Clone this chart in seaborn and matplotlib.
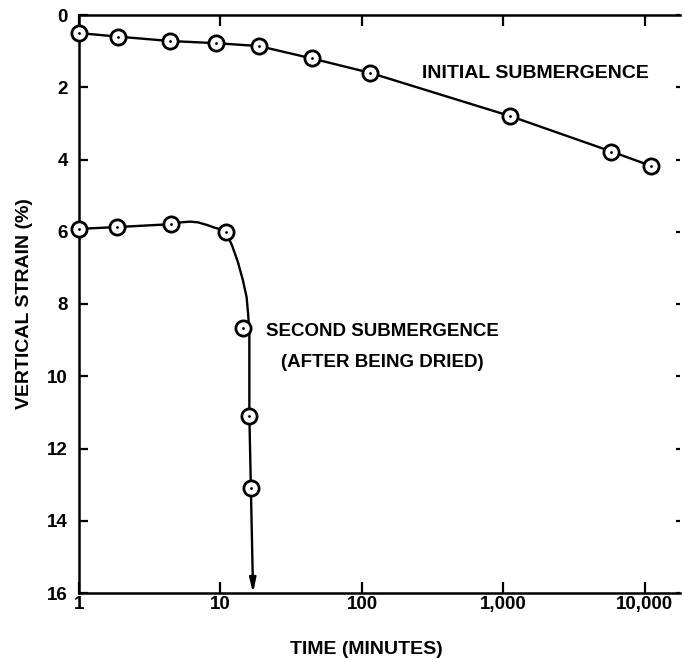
import matplotlib
matplotlib.use("Agg")
import matplotlib.pyplot as plt
import seaborn as sns
import pandas as pd

# ---- data ----
init_time = [1, 1.9, 4.4, 9.3, 18.7, 44, 114, 1120, 5800, 11100]
init_strain = [0.5, 0.6, 0.72, 0.78, 0.86, 1.2, 1.6, 2.8, 3.78, 4.18]

second_time = [1, 1.86, 4.5, 10.9, 14.5, 16.0, 16.4]
second_strain = [5.92, 5.87, 5.79, 6.02, 8.66, 11.09, 13.09]

# hand-drawn fit curve for the second submergence
curve_time = [1, 1.86, 4.5, 5.25, 6.1, 6.94, 8.0, 8.98, 10.08, 10.9,
              12.05, 13.28, 14.4, 15.3, 15.7, 16.0, 16.0, 16.4]
curve_strain = [5.92, 5.87, 5.79, 5.74, 5.72, 5.74, 5.81, 5.88, 5.94, 6.02,
                6.37, 6.84, 7.34, 7.81, 8.30, 8.86, 11.09, 13.09]
arrow_end = (17.0, 16.0)

x_ticks = [1, 10, 100, 1000, 10000]
x_ticklabels = ["1", "10", "100", "1,000", "10,000"]
y_ticks = [0, 2, 4, 6, 8, 10, 12, 14, 16]

init_df = pd.DataFrame({"time": init_time, "strain": init_strain})
second_df = pd.DataFrame({"time": second_time, "strain": second_strain})
curve_df = pd.DataFrame({"time": curve_time, "strain": curve_strain})

sns.set_style("white")
plt.rcParams["font.family"] = ["Liberation Sans", "DejaVu Sans"]
plt.rcParams["font.weight"] = "bold"
for k in ("text.color", "axes.labelcolor", "xtick.color", "ytick.color",
          "axes.edgecolor"):
    plt.rcParams[k] = "black"

fig = plt.figure(figsize=(6.82, 6.59), dpi=100)
ax = fig.add_axes([79 / 682, 1 - 593 / 659, 601 / 682, 578 / 659])

lw = 1.7
sns.lineplot(data=init_df, x="time", y="strain", ax=ax, color="black",
             linewidth=lw, sort=False, estimator=None)
sns.lineplot(data=curve_df, x="time", y="strain", ax=ax, color="black",
             linewidth=lw, sort=False, estimator=None)
ax.annotate("", xy=arrow_end, xytext=(curve_time[-1], curve_strain[-1]),
            arrowprops=dict(arrowstyle="-|>,head_length=0.7,head_width=0.16",
                            color="black", lw=lw,
                            mutation_scale=12, shrinkA=0, shrinkB=0))

for df in (init_df, second_df):
    sns.scatterplot(data=df, x="time", y="strain", ax=ax, marker="o", s=120,
                    facecolor="white", edgecolor="black", linewidth=2.0,
                    zorder=5, clip_on=False)
    sns.scatterplot(data=df, x="time", y="strain", ax=ax, marker="o", s=4,
                    color="black", linewidth=0, zorder=6, clip_on=False)

ax.set_xscale("log")
ax.set_xlim(1, 17700)
ax.set_ylim(16, 0)
ax.set_xticks(x_ticks)
ax.set_xticklabels(x_ticklabels)
ax.xaxis.set_minor_locator(matplotlib.ticker.NullLocator())
ax.set_yticks(y_ticks)
ax.set_yticklabels([str(v) for v in y_ticks])

for side in ("left", "bottom", "top"):
    ax.spines[side].set_visible(True)
    ax.spines[side].set_linewidth(1.8)
    ax.spines[side].set_color("black")
ax.spines["right"].set_visible(False)

ax.tick_params(axis="x", which="major", direction="in", top=True, bottom=True,
               length=8, width=1.6, pad=2, labelsize=13.5, colors="black")
ax.tick_params(axis="y", which="major", direction="in", left=True, right=True,
               length=6.5, width=1.6, pad=8, labelsize=13.5, colors="black")
for t in ax.yaxis.get_major_ticks():
    t.tick2line.set_markersize(3)
for lab in ax.get_xticklabels() + ax.get_yticklabels():
    lab.set_fontweight("bold")

ax.set_xlabel("TIME (MINUTES)", fontsize=14, fontweight="bold")
ax.set_ylabel("VERTICAL STRAIN (%)", fontsize=14, fontweight="bold", labelpad=10)
ax.xaxis.set_label_coords(0.478, -0.083)

ax.text(265, 1.63, "INITIAL SUBMERGENCE", fontsize=14, fontweight="bold",
        ha="left", va="center")
ax.text(140, 9.19, "SECOND SUBMERGENCE\n(AFTER BEING DRIED)", fontsize=13.5,
        fontweight="bold", ha="center", va="center", multialignment="center",
        linespacing=2.05)

fig.savefig("out.png", dpi=100)
